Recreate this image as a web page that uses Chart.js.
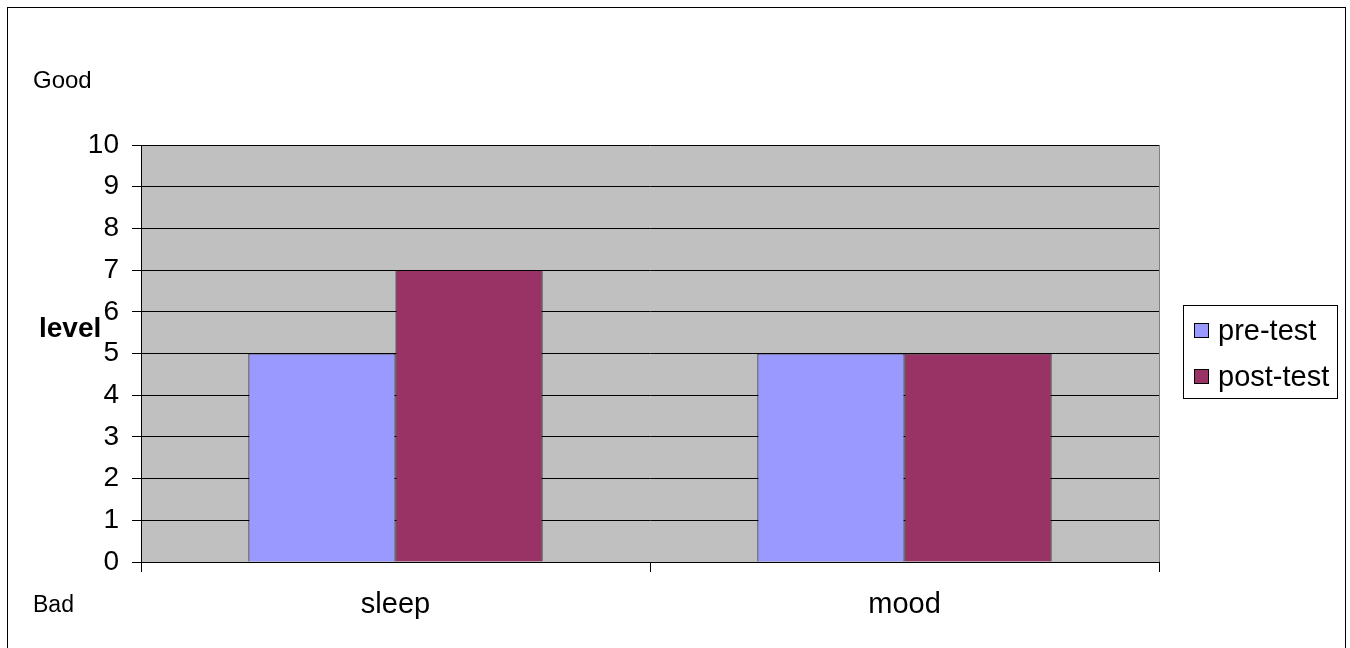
<!DOCTYPE html>
<html>
<head>
<meta charset="utf-8">
<script src="https://cdn.jsdelivr.net/npm/chart.js@4/dist/chart.umd.min.js"></script>
<style>
  html, body { margin: 0; padding: 0; background: #fff; }
  #wrap { width: 1350px; height: 648px; }
</style>
</head>
<body>
<div id="wrap"><canvas id="levelChart" width="1350" height="648"></canvas></div>
<script>
// data
const categories = ['sleep', 'mood'];
const preTest = [5, 5];
const postTest = [7, 5];
const seriesNames = ['pre-test', 'post-test'];
const seriesColors = ['#9999FF', '#993366'];
const yTicks = [0, 1, 2, 3, 4, 5, 6, 7, 8, 9, 10];

const FONT = '"Liberation Sans", Arial, sans-serif';

// frame, grey plot area, side texts and legend box
const decorations = {
    id: 'decorations',
    beforeDraw(chart) {
        const c = chart.ctx;
        const a = chart.chartArea;
        c.save();
        c.fillStyle = '#fff';
        c.fillRect(0, 0, chart.width, chart.height);
        c.strokeStyle = '#000';
        c.lineWidth = 1;
        c.strokeRect(7.5, 7.5, 1338, 660);
        c.fillStyle = '#C0C0C0';
        c.fillRect(a.left, a.top, a.right - a.left, a.bottom - a.top);
        c.restore();
    },
    afterDraw(chart) {
        const c = chart.ctx;
        const a = chart.chartArea;
        c.save();
        // right edge of the plot
        c.strokeStyle = '#808080';
        c.beginPath();
        c.moveTo(Math.round(a.right) + 0.5, a.top);
        c.lineTo(Math.round(a.right) + 0.5, a.bottom);
        c.stroke();

        c.fillStyle = '#000';
        c.textBaseline = 'alphabetic';
        c.textAlign = 'left';
        c.font = '24px ' + FONT;
        c.fillText('Good', 33, 88);
        c.font = '23px ' + FONT;
        c.fillText('Bad', 33, 612);
        c.font = 'bold 28px ' + FONT;
        c.fillText('level', 39, 337);

        // legend
        c.strokeStyle = '#000';
        c.strokeRect(1183.5, 305.5, 154, 93);
        c.font = '29px ' + FONT;
        c.textBaseline = 'middle';
        chart.data.datasets.forEach((ds, i) => {
            const y = 331 + i * 46;
            c.fillStyle = ds.backgroundColor;
            c.fillRect(1194, y - 8, 15, 15);
            c.strokeRect(1194.5, y - 7.5, 14, 14);
            c.fillStyle = '#000';
            c.fillText(ds.label, 1218, y + 1);
        });
        c.restore();
    }
};

new Chart(document.getElementById('levelChart'), {
    type: 'bar',
    data: {
        labels: categories,
        datasets: [
            { label: seriesNames[0], data: preTest, backgroundColor: seriesColors[0], borderColor: '#000', borderWidth: 1 },
            { label: seriesNames[1], data: postTest, backgroundColor: seriesColors[1], borderColor: '#000', borderWidth: 1 }
        ]
    },
    options: {
        responsive: false,
        animation: false,
        layout: { padding: { left: 0, top: 145, right: 191, bottom: 0 } },
        datasets: {
            bar: {
                barPercentage: 1,
                categoryPercentage: 0.578
            }
        },
        plugins: {
            legend: { display: false },
            tooltip: { enabled: false }
        },
        scales: {
            x: {
                afterFit(scale) { scale.height = 86; },
                border: { color: '#000', width: 1 },
                grid: { drawOnChartArea: false, drawTicks: true, tickLength: 10, color: '#000' },
                ticks: { color: '#000', padding: 16, font: { family: FONT, size: 29 } }
            },
            y: {
                min: 0,
                max: 10,
                afterFit(scale) { scale.width = 141; },
                afterBuildTicks(scale) { scale.ticks = yTicks.map(v => ({ value: v })); },
                border: { color: '#000', width: 1 },
                grid: { color: '#000', lineWidth: 1, tickLength: 9 },
                ticks: { color: '#000', padding: 13, font: { family: FONT, size: 28 } }
            }
        }
    },
    plugins: [decorations]
});
</script>
</body>
</html>
